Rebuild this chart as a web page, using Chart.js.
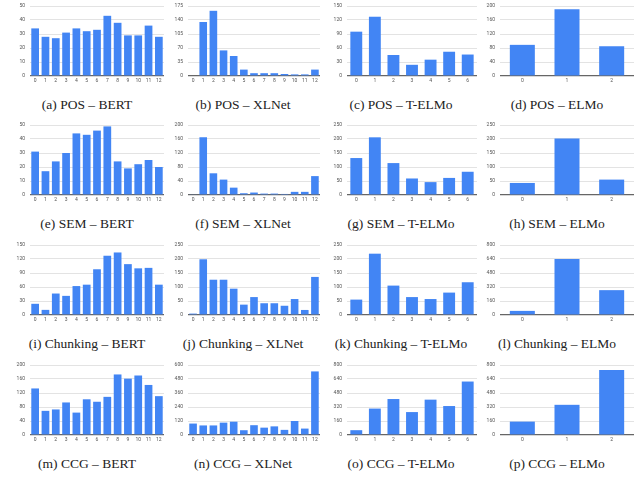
<!DOCTYPE html>
<html>
<head>
<meta charset="utf-8">
<script src="https://cdn.jsdelivr.net/npm/chart.js@4.4.0/dist/chart.umd.min.js"></script>
<style>
  html, body { margin: 0; padding: 0; background: #fff; }
  body { width: 640px; height: 487px; position: relative; overflow: hidden; }
  .cell { position: absolute; }
  .cap { position: absolute; text-align: center; font-family: 'Liberation Serif', 'DejaVu Serif', serif; font-size: 13.5px; color: #222; white-space: nowrap; }
</style>
</head>
<body>
<script>
// -- Data: layer counts per task / model --
var layers13 = ['0', '1', '2', '3', '4', '5', '6', '7', '8', '9', '10', '11', '12'];
var layers7 = ['0', '1', '2', '3', '4', '5', '6'];
var layers3 = ['0', '1', '2'];

var posBert = [34, 28, 27, 31, 34, 32, 33, 43, 38, 29, 29, 36, 28];
var posXlnet = [0, 135, 163, 64, 50, 16, 7, 7, 7, 5, 4, 4, 16];
var posTelmo = [95, 127, 45, 24, 35, 52, 46];
var posElmo = [89, 191, 85];

var semBert = [31, 17, 24, 30, 44, 43, 46, 49, 24, 19, 22, 25, 20];
var semXlnet = [2, 165, 62, 44, 21, 5, 7, 4, 4, 3, 9, 9, 54];
var semTelmo = [132, 206, 114, 59, 46, 61, 83];
var semElmo = [43, 202, 55];

var chunkBert = [24, 11, 46, 41, 62, 65, 98, 127, 134, 109, 100, 101, 65];
var chunkXlnet = [5, 199, 126, 126, 94, 37, 64, 42, 42, 33, 57, 18, 136];
var chunkTelmo = [55, 219, 105, 64, 57, 80, 117];
var chunkElmo = [47, 640, 284];

var ccgBert = [133, 69, 73, 93, 64, 102, 95, 109, 173, 161, 170, 143, 111];
var ccgXlnet = [98, 82, 82, 106, 114, 41, 84, 63, 74, 44, 120, 55, 545];
var ccgTelmo = [55, 302, 411, 262, 404, 331, 611];
var ccgElmo = [153, 345, 742];

var captions = [
  '(a) POS – BERT', '(b) POS – XLNet', '(c) POS – T-ELMo', '(d) POS – ELMo',
  '(e) SEM – BERT', '(f) SEM – XLNet', '(g) SEM – T-ELMo', '(h) SEM – ELMo',
  '(i) Chunking – BERT', '(j) Chunking – XLNet', '(k) Chunking – T-ELMo', '(l) Chunking – ELMo',
  '(m) CCG – BERT', '(n) CCG – XLNet', '(o) CCG – T-ELMo', '(p) CCG – ELMo'
];

// y-axis max and step for each panel
var yMax = [50, 175, 150, 200, 50, 200, 250, 250, 150, 250, 250, 800, 200, 600, 800, 800];
var yStep = [10, 35, 30, 40, 10, 40, 50, 50, 30, 50, 50, 160, 40, 120, 160, 160];

var series = [
  posBert, posXlnet, posTelmo, posElmo,
  semBert, semXlnet, semTelmo, semElmo,
  chunkBert, chunkXlnet, chunkTelmo, chunkElmo,
  ccgBert, ccgXlnet, ccgTelmo, ccgElmo
];
var labelSets = [layers13, layers13, layers7, layers3];

// -- Layout --
var COLS = [
  { left: 10, width: 154, axis: 20, bar: 0.75 },
  { left: 166, width: 154, axis: 22, bar: 0.75 },
  { left: 325, width: 152, axis: 22, bar: 0.64 },
  { left: 480, width: 154, axis: 20, bar: 0.56 }
];
var ROW_TOP = [-2, 117, 237, 357];
var CAP_TOP = [97, 216, 336, 456];
var CELL_H = 88;

Chart.defaults.font.family = "Roboto, 'DejaVu Sans', sans-serif";
Chart.defaults.font.size = 5;
Chart.defaults.color = '#555';
Chart.defaults.animation = false;

series.forEach(function (data, i) {
  var r = Math.floor(i / 4), c = i % 4;
  var col = COLS[c];

  var cell = document.createElement('div');
  cell.className = 'cell';
  cell.style.left = col.left + 'px';
  cell.style.top = ROW_TOP[r] + 'px';
  cell.style.width = col.width + 'px';
  cell.style.height = CELL_H + 'px';
  var canvas = document.createElement('canvas');
  cell.appendChild(canvas);
  document.body.appendChild(cell);

  var cap = document.createElement('div');
  cap.className = 'cap';
  cap.textContent = captions[i];
  cap.style.left = col.left + 'px';
  cap.style.width = col.width + 'px';
  cap.style.top = CAP_TOP[r] + 'px';
  document.body.appendChild(cap);

  new Chart(canvas, {
    type: 'bar',
    data: {
      labels: labelSets[c],
      datasets: [{
        data: data,
        backgroundColor: '#4285F4',
        borderWidth: 0,
        barPercentage: col.bar,
        categoryPercentage: 1
      }]
    },
    options: {
      responsive: true,
      maintainAspectRatio: false,
      layout: { padding: { top: 4, right: 0, bottom: 0, left: 0 } },
      plugins: { legend: { display: false }, tooltip: { enabled: false } },
      scales: {
        x: {
          afterFit: function (scale) { scale.height = 10; },
          grid: { display: false, drawTicks: false },
          border: { display: false },
          ticks: { padding: 2, maxRotation: 0, autoSkip: false }
        },
        y: {
          min: 0,
          max: yMax[i],
          afterFit: function (scale) { scale.width = col.axis; },
          grid: {
            drawTicks: false,
            lineWidth: function (ctx) { return ctx.tick && ctx.tick.value === 0 ? 1.2 : 0.8; },
            color: function (ctx) { return ctx.tick && ctx.tick.value === 0 ? '#666' : '#dcdcdc'; }
          },
          border: { display: false },
          ticks: { stepSize: yStep[i], padding: 5 }
        }
      }
    }
  });
});
</script>
</body>
</html>
